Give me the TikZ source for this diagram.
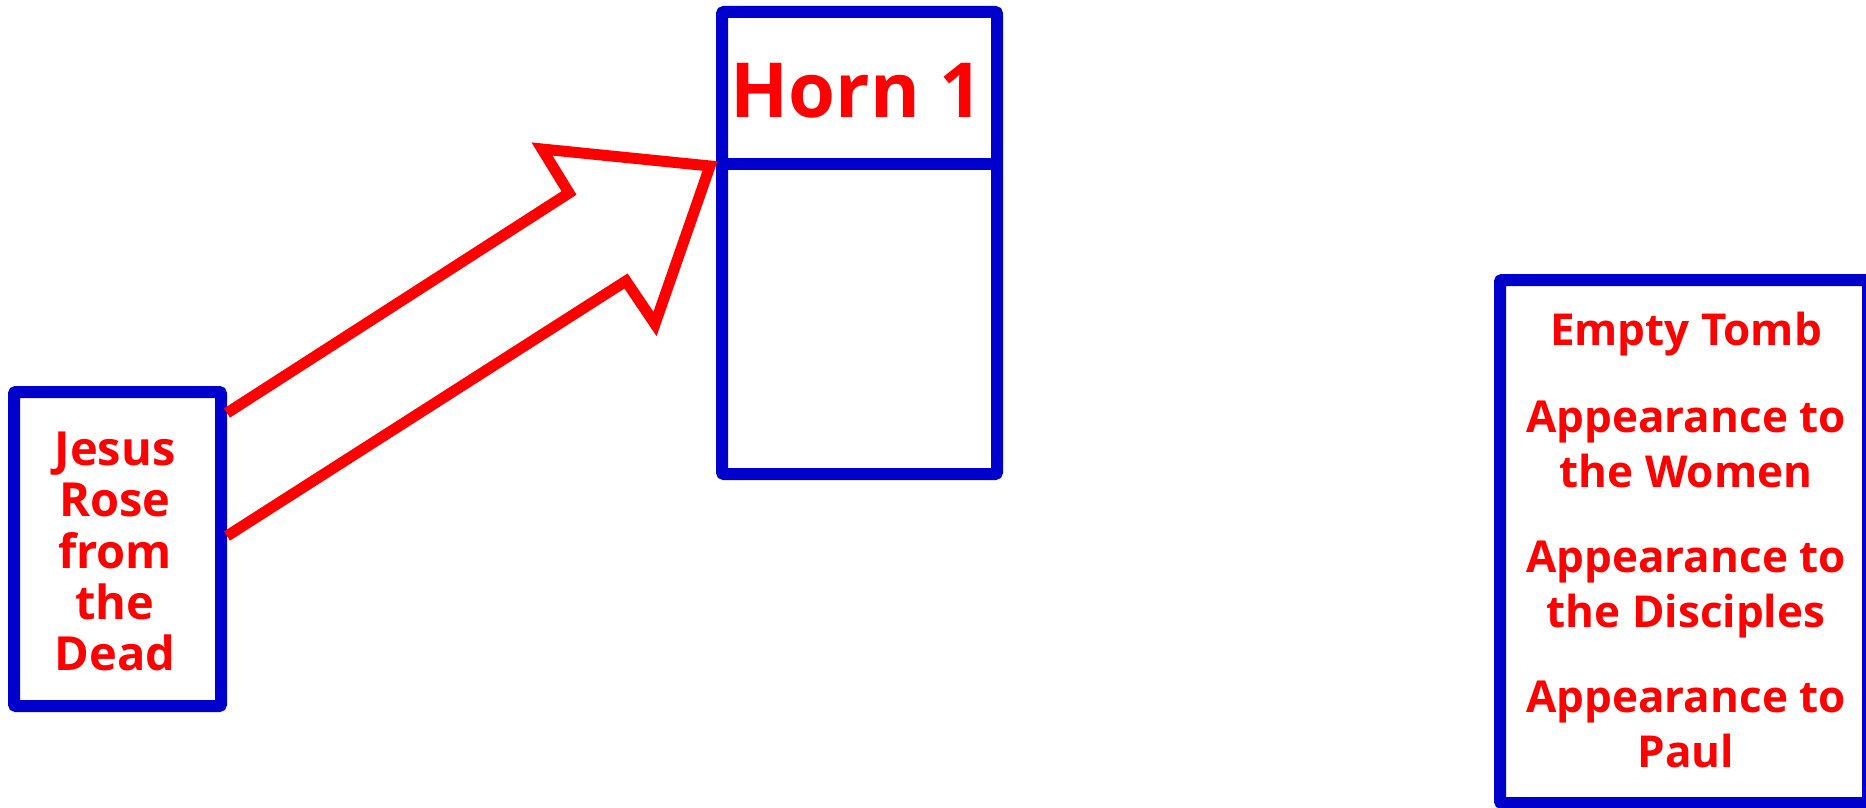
\documentclass[tikz,border=0pt]{standalone}
\usepackage{fontspec}
\setmainfont{Open Sans}
\definecolor{boxblue}{RGB}{0,0,204}
\definecolor{txtred}{RGB}{255,0,0}
\begin{document}
\begin{tikzpicture}[x=1pt,y=-1pt,
  frame/.style={draw=boxblue,line width=12pt,rounded corners=2pt,inner sep=0pt,outer sep=0pt},
  lbl/.style={text=txtred,font=\bfseries\fontsize{47}{55}\selectfont,anchor=base,inner sep=0pt},
  rlbl/.style={text=txtred,font=\bfseries\fontsize{44}{55}\selectfont,anchor=base,inner sep=0pt},
  hornlbl/.style={text=txtred,font=\bfseries\fontsize{76}{80}\selectfont,anchor=base,inner sep=0pt},
  blockarrow/.style={draw=txtred,line width=11pt,line join=miter,miter limit=10}]
\useasboundingbox (0,0) rectangle (1866,808);
% left box
\node[frame,minimum width=207pt,minimum height=314pt] (jesus) at (117.5,549) {};
\node[lbl] (l1) at (115,465) {Jesus};
\node[lbl] (l2) at (115,516) {Rose};
\node[lbl] (l3) at (115,568) {from};
\node[lbl] (l4) at (115,619) {the};
\node[lbl] (l5) at (115,670) {Dead};
% horn box
\node[frame,minimum width=275pt,minimum height=462pt] (horn) at (859.5,243) {};
\draw[boxblue,line width=12pt] (horn.west |- 0,164) -- (horn.east |- 0,164);
\node[hornlbl] (hornt) at (857,117) {Horn 1};
% right box
\node[frame,minimum width=368pt,minimum height=523pt] (list) at (1684,541.5) {};
\node[rlbl] (r1) at (1686,345) {Empty Tomb};
\node[rlbl] (r2) at (1686,432) {Appearance to};
\node[rlbl] (r3) at (1686,487) {the Women};
\node[rlbl] (r4) at (1686,572) {Appearance to};
\node[rlbl] (r5) at (1686,627) {the Disciples};
\node[rlbl] (r6) at (1686,712) {Appearance to};
\node[rlbl] (r7) at (1686,767) {Paul};
% block arrow
\coordinate (a1) at ([xshift=6pt]jesus.east |- 0,413);
\coordinate (a7) at ([xshift=6pt]jesus.east |- 0,536);
\coordinate (a2) at (569,193);
\coordinate (a3) at (542,149);
\coordinate (a4) at (horn.west |- 0,166);
\coordinate (a5) at (655,324);
\coordinate (a6) at (626,281);
\draw[blockarrow] (a1) -- (a2) -- (a3) -- ([xshift=-12pt]a4) -- (a5) -- (a6) -- (a7);
\end{tikzpicture}
\end{document}
